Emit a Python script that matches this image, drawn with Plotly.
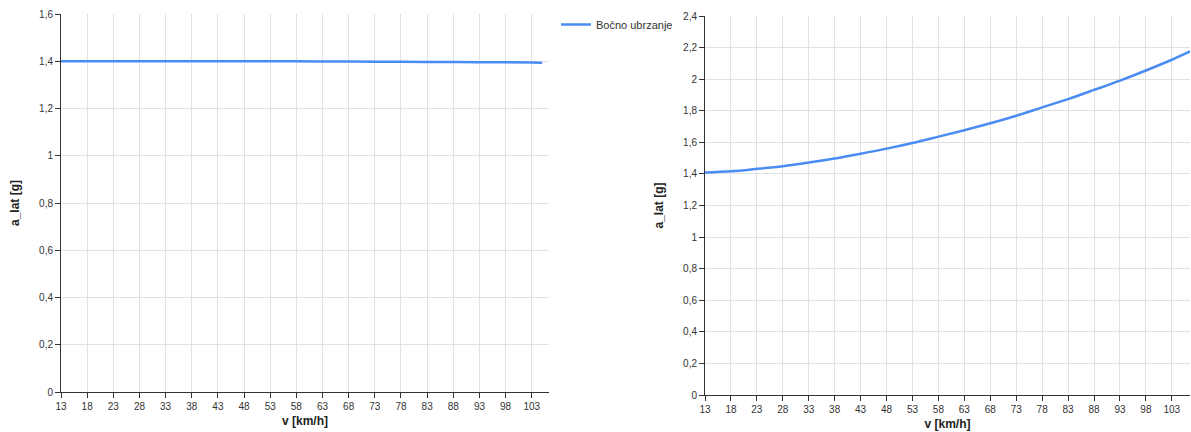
import plotly.graph_objects as go
from plotly.subplots import make_subplots

speed_left = [13, 23, 33, 43, 53, 63, 73, 83, 93, 103, 105]
alat_left = [1.400, 1.400, 1.400, 1.400, 1.400, 1.399, 1.398, 1.397, 1.396, 1.395, 1.394]

speed_right = [13, 18, 23, 28, 33, 38, 43, 48, 53, 58, 63, 68, 73, 78, 83, 88, 93, 98, 103, 106.5]
alat_right = [1.409, 1.417, 1.432, 1.449, 1.472, 1.498, 1.528, 1.560, 1.596, 1.636, 1.677,
              1.721, 1.768, 1.821, 1.874, 1.932, 1.991, 2.055, 2.123, 2.176]

x_ticks = list(range(13, 104, 5))
series_name = "Bočno ubrzanje"
x_title = "v [km/h]"
y_title = "a_lat [g]"

color = "#4a8cf3"
font_family = "Liberation Sans, Arial, sans-serif"

fig = make_subplots(rows=1, cols=2)
fig.add_trace(go.Scatter(x=speed_left, y=alat_left, mode="lines", name=series_name,
                         line=dict(color=color, width=2.5, shape="spline"), showlegend=True), row=1, col=1)
fig.add_trace(go.Scatter(x=speed_right, y=alat_right, mode="lines", name=series_name,
                         line=dict(color=color, width=2.5, shape="spline"), showlegend=False), row=1, col=2)

axis_common = dict(showline=True, linecolor="#333333", linewidth=1, ticks="outside",
                   ticklen=5, tickcolor="#333333", gridcolor="#e1e1e1", gridwidth=1,
                   zeroline=False, tickfont=dict(size=10, color="#333333", family=font_family),
                   mirror=False, automargin=False)

fig.update_xaxes(**axis_common, tickvals=x_ticks, range=[13, 106.3],
                 title=dict(text="<b>" + x_title + "</b>", font=dict(size=12, color="#222222", family=font_family), standoff=5))
fig.update_yaxes(**axis_common, dtick=0.2, tickformat=".1~f",
                 title=dict(text="<b>" + y_title + "</b>", font=dict(size=12, color="#222222", family=font_family), standoff=16))

fig.update_layout(
    width=1191, height=432,
    margin=dict(l=0, r=0, t=0, b=0, autoexpand=False),
    paper_bgcolor="white", plot_bgcolor="white",
    separators=",.",
    font=dict(family=font_family, color="#333333"),
    xaxis=dict(domain=[61/1191, 549/1191]),
    xaxis2=dict(domain=[705/1191, 1190/1191], range=[13, 106.5]),
    yaxis=dict(domain=[1-392/432, 1-14/432], range=[0, 1.6]),
    yaxis2=dict(domain=[1-395/432, 1-16/432], range=[0, 2.4]),
    legend=dict(x=556/1191, y=1-10/432, xanchor="left", yanchor="top", itemwidth=30,
                font=dict(size=11, color="#333333", family=font_family),
                bgcolor="rgba(0,0,0,0)"),
)

fig.write_html("out.html", config={"displayModeBar": False},
               post_script="document.body.style.margin='0';document.body.style.overflow='hidden';")
